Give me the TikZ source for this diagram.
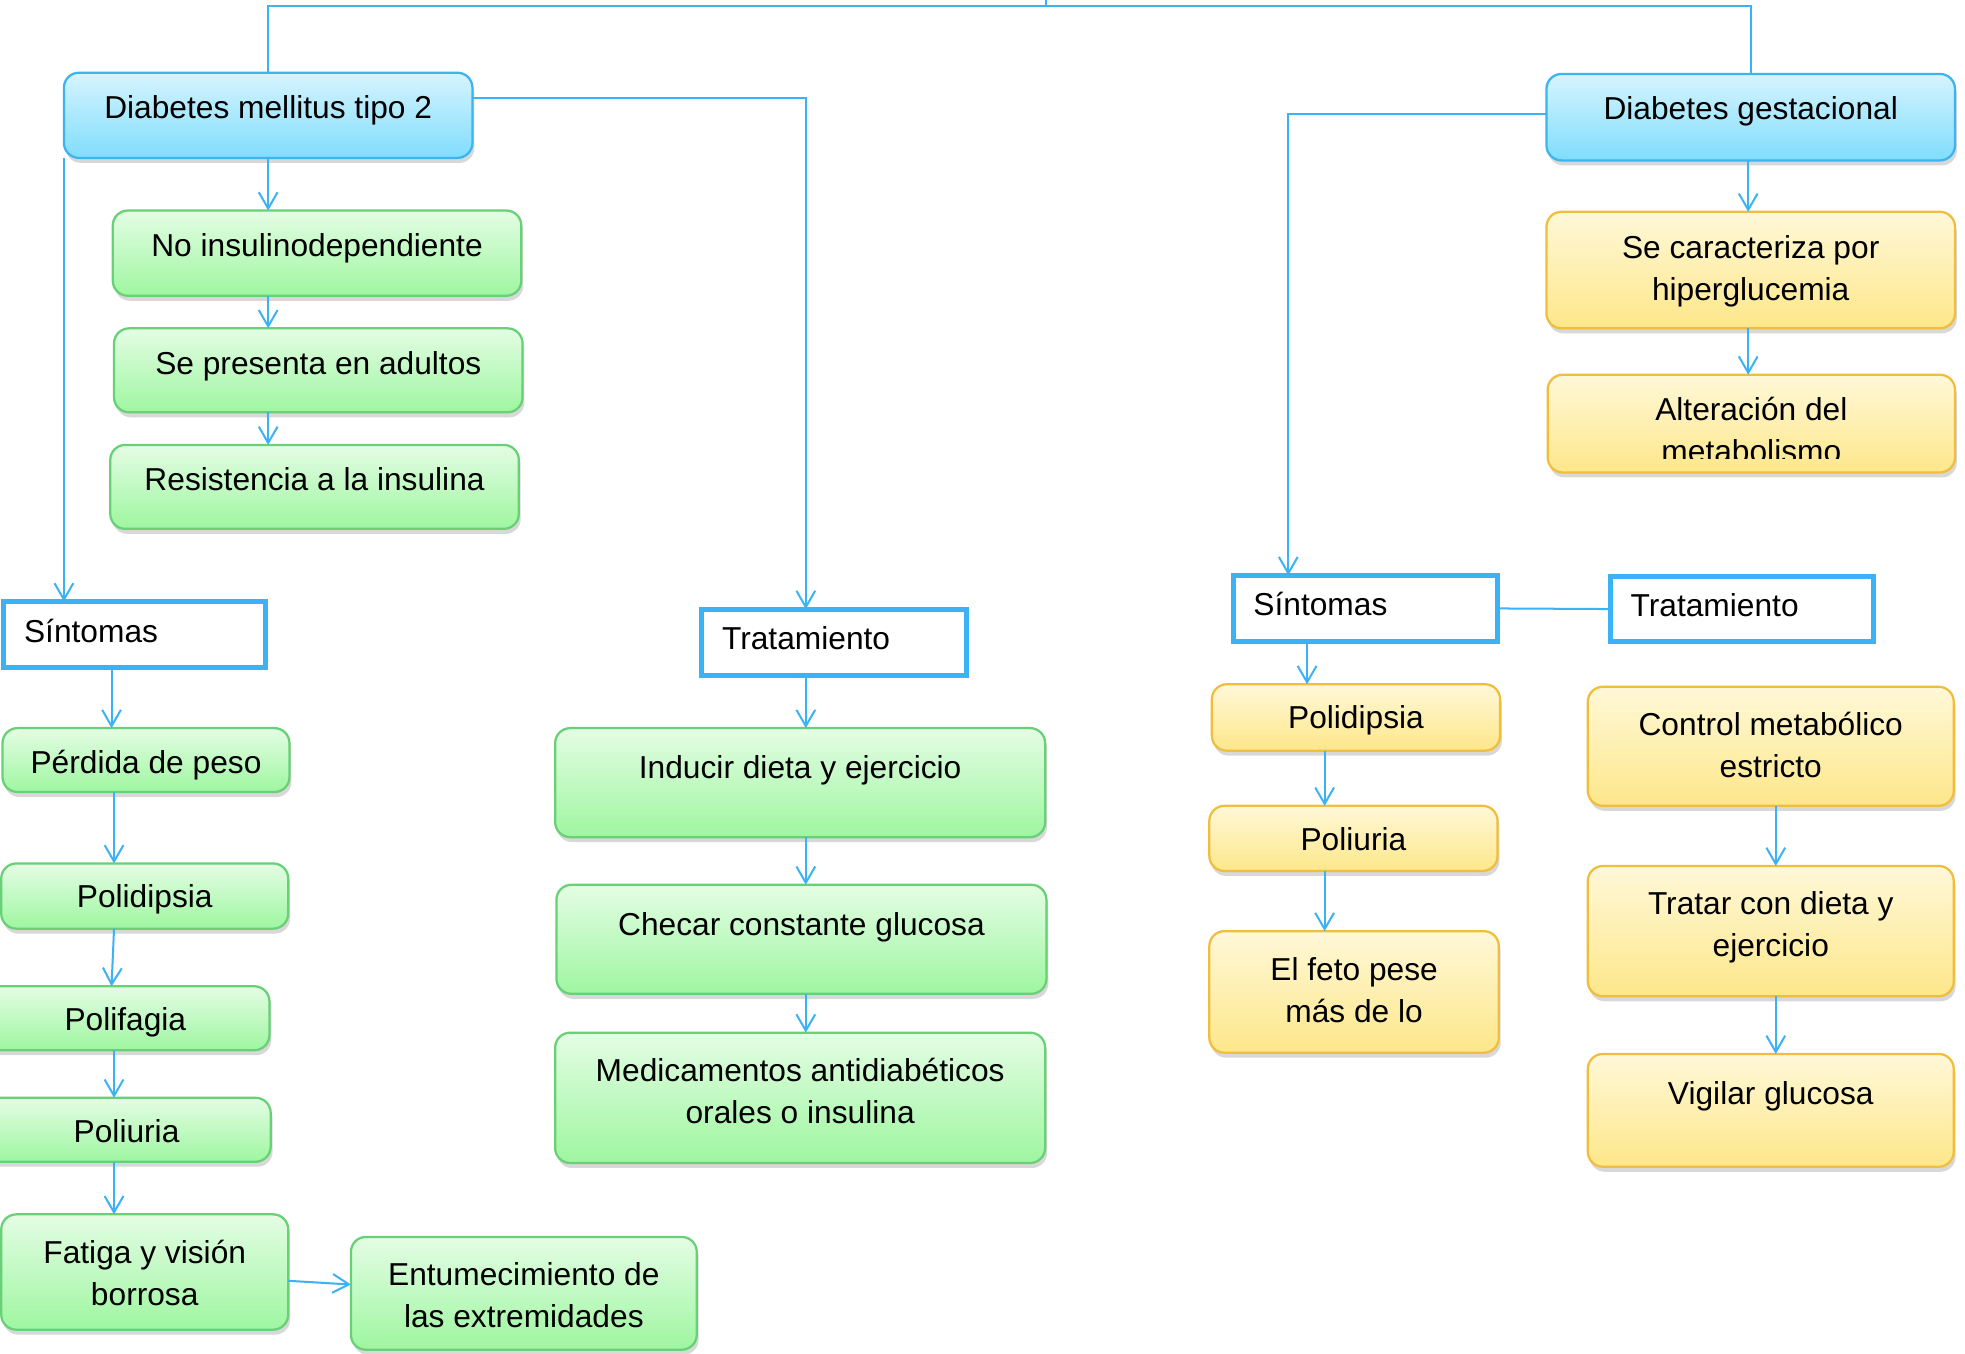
\documentclass[tikz,border=0pt]{standalone}
\usepackage{fontspec}
\setmainfont{Liberation Sans}
\usetikzlibrary{arrows.meta,shadows}
\definecolor{cblue}{RGB}{59,178,245}
\definecolor{bTop}{RGB}{214,244,254}
\definecolor{bBot}{RGB}{128,221,253}
\definecolor{bDraw}{RGB}{60,180,240}
\definecolor{gTop}{RGB}{228,253,228}
\definecolor{gBot}{RGB}{158,246,160}
\definecolor{gDraw}{RGB}{104,208,118}
\definecolor{yTop}{RGB}{255,248,216}
\definecolor{yBot}{RGB}{253,231,138}
\definecolor{yDraw}{RGB}{240,190,60}
\tikzset{
 basebox/.style={rectangle, rounded corners=12pt, line width=1.8pt, inner sep=0pt, outer sep=0pt,
   drop shadow={shadow xshift=1.5pt, shadow yshift=-4pt, opacity=0.3}},
 bluebox/.style={basebox, draw=bDraw, top color=bTop, bottom color=bBot},
 greenbox/.style={basebox, draw=gDraw, top color=gTop, bottom color=gBot},
 yellowbox/.style={basebox, draw=yDraw, top color=yTop, bottom color=yBot},
 headbox/.style={rectangle, draw=cblue, line width=4pt, fill=white, inner sep=0pt, outer sep=0pt},
 txt/.style={inner sep=0pt, align=center, font=\fontsize{25.3}{33.5}\selectfont},
 conn/.style={draw=cblue, line width=1.6pt},
 arr/.style={conn, -{Straight Barb[length=13pt,width=15pt]}},
}
\newcommand\mybox[8][18]{%
 \node[#2, minimum width={(#6)-(#4)}, minimum height={(#7)-(#5)}] (#3) at ({((#4)+(#6))/2},{((#5)+(#7))/2}) {};
 \node[txt, anchor=north] (#3-t) at ([yshift=-#1pt]#3.north) {#8};}
\newcommand\hbx[6]{%
 \node[headbox, minimum width={(#4)-(#2)-4}, minimum height={(#5)-(#3)-4}] (#1) at ({((#2)+(#4))/2},{((#3)+(#5))/2}) {};
 \node[txt, anchor=base west] (#1-t) at ([xshift=16pt,yshift=-6pt]#1.west) {#6};}
\begin{document}
\begin{tikzpicture}[x=1pt,y=-1pt]
\useasboundingbox (0,0) rectangle (1568,1080);
\fill[white] (0,0) rectangle (1568,1080);
\clip (0,0) rectangle (1568,1080);
% left branch
\mybox{bluebox}{dm}{51}{58}{377}{126}{Diabetes mellitus tipo 2}
\mybox{greenbox}{ni}{90}{168}{416}{236}{No insulinodependiente}
\mybox{greenbox}{sa}{91}{262}{417}{329}{Se presenta en adultos}
\mybox{greenbox}{ri}{88}{355}{414}{422}{Resistencia a la insulina}
\hbx{s1}{1}{478}{214}{535}{Síntomas}
\hbx{t1}{558}{484}{773}{541}{Tratamiento}
\mybox[17]{greenbox}{pp}{2}{581}{231}{632}{Pérdida de peso}
\mybox[17]{greenbox}{pd}{1}{689}{230}{741}{Polidipsia}
\mybox[17]{greenbox}{pf}{-15}{787}{215}{838}{Polifagia}
\mybox[17]{greenbox}{pu}{-14}{876}{216}{927}{Poliuria}
\mybox[20]{greenbox}{fv}{1}{969}{230}{1061}{Fatiga y visión\\borrosa}
\mybox[20]{greenbox}{en}{280}{987}{556}{1077}{Entumecimiento de\\las extremidades}
\mybox[22]{greenbox}{id}{443}{581}{834}{668}{Inducir dieta y ejercicio}
\mybox[22]{greenbox}{cg}{444}{706}{835}{793}{Checar constante glucosa}
\mybox[20]{greenbox}{md}{443}{824}{834}{928}{Medicamentos antidiabéticos\\orales o insulina}
% right branch
\mybox{bluebox}{dg}{1234}{59}{1560}{128}{Diabetes gestacional}
\mybox[19]{yellowbox}{sc}{1234}{169}{1560}{262}{Se caracteriza por\\hiperglucemia}
\node[yellowbox, minimum width=325, minimum height=78] (am) at (1397.5,338) {};
\begin{scope}
\clip (1235,299) rectangle (1560,366);
\node[txt, anchor=north] (am-t) at ([yshift=-18pt]am.north) {Alteración del\\metabolismo};
\end{scope}
\hbx{s2}{982}{457}{1197}{514}{Síntomas}
\hbx{t2}{1283}{458}{1497}{514}{Tratamiento}
\mybox[17]{yellowbox}{yp}{967}{546}{1197}{599}{Polidipsia}
\mybox[17]{yellowbox}{yu}{965}{643}{1195}{695}{Poliuria}
\mybox[21]{yellowbox}{fp}{965}{743}{1196}{840}{El feto pese\\más de lo}
\mybox[20]{yellowbox}{cm}{1267}{548}{1559}{643}{Control metabólico\\estricto}
\mybox[20]{yellowbox}{td}{1267}{691}{1559}{795}{Tratar con dieta y\\ejercicio}
\mybox[22]{yellowbox}{vg}{1267}{841}{1559}{931}{Vigilar glucosa}
% connectors
\coordinate (hub) at (835,5);
\coordinate (up) at (835,-10);
\draw[conn] (up) -- (hub);
\draw[conn] (dm.north) |- (hub) -| (dg.north);
\draw[arr] (dm.south) -- (ni.north -| dm.south);
\draw[arr] (ni.south -| 214,0) -- (sa.north -| 214,0);
\draw[arr] (sa.south -| 214,0) -- (ri.north -| 214,0);
\draw[arr] (dm.south west) -- (s1.north -| dm.south west);
\draw[arr] ([yshift=14pt]dm.east) -| (t1.north -| 643,0);
\draw[arr] (s1.south -| 89,0) -- (pp.north -| 89,0);
\draw[arr] (pp.south -| 91,0) -- (pd.north -| 91,0);
\draw[arr] (pd.south -| 91,0) -- (pf.north -| 89,0);
\draw[arr] (pf.south -| 91,0) -- (pu.north -| 91,0);
\draw[arr] (pu.south -| 91,0) -- (fv.north -| 91,0);
\draw[arr] ([yshift=-7pt]fv.east) -- ([yshift=7pt]en.west);
\draw[arr] (t1.south -| 643,0) -- (id.north -| 643,0);
\draw[arr] (id.south -| 643,0) -- (cg.north -| 643,0);
\draw[arr] (cg.south -| 643,0) -- (md.north -| 643,0);
\draw[arr] (dg.south -| 1395,0) -- (sc.north -| 1395,0);
\draw[arr] (sc.south -| 1395,0) -- (am.north -| 1395,0);
\draw[arr] ([yshift=2.5pt]dg.west) -| (s2.north -| 1028,0);
\draw[conn] (s2.east) -- (t2.west);
\draw[arr] (s2.south -| 1043,0) -- (yp.north -| 1043,0);
\draw[arr] (yp.south -| 1057,0) -- (yu.north -| 1057,0);
\draw[arr] (yu.south -| 1057,0) -- (fp.north -| 1057,0);
\draw[arr] (cm.south -| 1417,0) -- (td.north -| 1417,0);
\draw[arr] (td.south -| 1417,0) -- (vg.north -| 1417,0);
\end{tikzpicture}
\end{document}
